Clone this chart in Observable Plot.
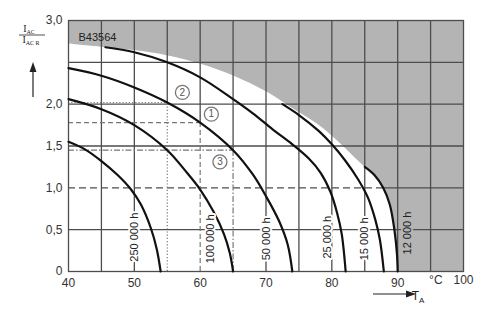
<!DOCTYPE html>
<html><head><meta charset="utf-8">
<script src="https://cdn.jsdelivr.net/npm/d3@7"></script>
<script src="https://cdn.jsdelivr.net/npm/@observablehq/plot@0.6"></script>
<style>
body{margin:0;background:#fff;}
#chart{width:498px;height:309px;}
</style></head><body><div id="chart"></div>
<script>
// Curves: [T_A in °C, I_AC / I_AC,R]
const curve250k = [[40,1.55],[42.5,1.46],[45,1.32],[47.5,1.15],[49.5,0.98],[51,0.8],[52.5,0.52],[53.4,0.27],[54,0]];
const curve100k = [[40,2.06],[45,1.94],[50,1.75],[55,1.45],[58,1.18],[60,0.98],[62,0.72],[63.6,0.45],[64.5,0.22],[65,0]];
const curve50k  = [[40,2.43],[45,2.34],[50,2.2],[55,2.02],[60,1.78],[65,1.45],[68,1.16],[70,0.9],[72,0.6],[73.3,0.32],[74,0]];
const curve25k  = [[45.6,2.68],[50,2.62],[55,2.5],[60,2.32],[65,2.06],[68,1.89],[71,1.7],[74,1.52],[76.5,1.35],[78.3,1.18],[79.8,0.95],[80.8,0.7],[81.5,0.45],[82.1,0]];
const curve15k  = [[72.5,2.0],[75,1.87],[78,1.68],[80,1.52],[82,1.33],[84,1.1],[85.5,0.88],[86.6,0.62],[87.3,0.38],[87.9,0]];
const curve12k  = [[85,1.25],[86.5,1.15],[87.8,1.0],[88.8,0.8],[89.5,0.5],[89.9,0.2],[90,0]];
const curveNames = ["250 000 h","100 000 h","50 000 h","25 000 h","15 000 h","12 000 h"];
const labelT = [50, 61.6, 70, 79.4, 85, 91.5];
const labelV = [0.41, 0.39, 0.39, 0.41, 0.39, 0.46];
// upper limit of the permitted region (shaded above it)
const limitEdge = [[40,2.72],[45,2.68],[50,2.64],[55,2.58],[60,2.48],[65,2.34],[70,2.15],[74,1.95],[78,1.75],[81,1.55],[83.5,1.36]];
// operating examples 1,2,3
const refIds = ["1","2","3"];
const refT = [60, 55, 65];
const refV = [1.78, 2.02, 1.45];
const refDash = ["5,3", "1.2,2", "6,2,1.5,2"];
const refLabelT = [61.7, 57.3, 63.0];
const refLabelV = [1.88, 2.14, 1.31];
// ticks & grid
const xTicks = [40,50,60,70,80,90];
const yTicks = [0,0.5,1,1.5,2,3];
const gridX = [45,50,70,75,80,85,90,95];
const gridY = [0.5,1.5,2,2.5];

const grayEdge = limitEdge.concat(curve12k);
const refs = refIds.map((id,i)=>({id, T:refT[i], v:refV[i], dash:refDash[i], lt:refLabelT[i], lv:refLabelV[i]}));
const curves = [curve250k,curve100k,curve50k,curve25k,curve15k,curve12k];
const labels = curveNames.map((n,i)=>({n, T:labelT[i], v:labelV[i], bg: i===5 ? "#b4b4b4" : "white"}));
const gridCol = "#4d4d4d";
const shade = "#b4b4b4";
const lastT = curve12k[curve12k.length-1][0];

const marks = [
  Plot.areaY(grayEdge, {x: d=>d[0], y1: d=>d[1], y2: 3, fill: shade, curve: "catmull-rom"}),
  Plot.rect([lastT], {x1: d=>d, x2: 100, y1: 0, y2: 3, fill: shade}),
  Plot.ruleX(gridX, {stroke: gridCol, strokeWidth: 1.3}),
  Plot.ruleY(gridY, {stroke: gridCol, strokeWidth: 1.3}),
  Plot.ruleX(refs, {x: "T", y1: "v", y2: 3, stroke: gridCol, strokeWidth: 1.3}),
  Plot.ruleY([1], {x1: 40, x2: 88, stroke: gridCol, strokeWidth: 1.3, strokeDasharray: "7,4"}),
  Plot.ruleY([1], {x1: 88, x2: 100, stroke: gridCol, strokeWidth: 1.3}),
];
refs.forEach(r => {
  marks.push(Plot.ruleY([r], {y: "v", x1: 40, x2: "T", stroke: "#777", strokeWidth: 1.2, strokeDasharray: r.dash}));
  marks.push(Plot.ruleX([r], {x: "T", y1: 0, y2: "v", stroke: "#777", strokeWidth: 1.2, strokeDasharray: r.dash}));
});
marks.push(Plot.frame({stroke: gridCol, strokeWidth: 1.3}));
curves.forEach(c => marks.push(Plot.line(c, {x: d=>d[0], y: d=>d[1], stroke: "#111", strokeWidth: 2.2, curve: "catmull-rom"})));
marks.push(Plot.text(labels, {x: "T", y: "v", text: "n", rotate: -90, fontSize: 11, fill: "#222", stroke: "bg", strokeWidth: 4, paintOrder: "stroke"}));
marks.push(Plot.dot(refs, {x: "lt", y: "lv", r: 7, stroke: "#777", strokeWidth: 1.3, fill: "white"}));
marks.push(Plot.text(refs, {x: "lt", y: "lv", text: "id", fontSize: 10, fill: "#555"}));
marks.push(Plot.text(["B43564"], {frameAnchor: "top-left", dx: 10, dy: 13, textAnchor: "start", fontSize: 11, fill: "#222"}));
marks.push(Plot.text(["°C"], {x: [95.8], frameAnchor: "bottom", dy: 12, fontSize: 12, fill: "#333"}));
marks.push(Plot.text(["100"], {x: [100], frameAnchor: "bottom", dy: 12, fontSize: 12, fill: "#333"}));

const chart = Plot.plot({
  width: 498, height: 309,
  marginLeft: 68, marginRight: 35, marginTop: 20, marginBottom: 38,
  style: {fontFamily: "Liberation Sans, Arial, sans-serif", fontSize: "12px", color: "#333", background: "white"},
  x: {domain: [40,100], ticks: xTicks, tickSize: 0, tickPadding: 7, label: null, tickFormat: d => String(d)},
  y: {domain: [0,3], ticks: yTicks, tickSize: 0, tickPadding: 6, label: null,
      tickFormat: d => d === 0 ? "0" : d.toFixed(1).replace(".", ",")},
  marks
});
document.getElementById("chart").appendChild(chart);

// axis titles with subscripts and arrows
const svg = d3.select(chart);
const t = svg.append("g").attr("font-family", "Liberation Serif, serif").attr("fill", "#222");
const num = t.append("text").attr("x", 29).attr("y", 32).attr("text-anchor", "middle").attr("font-size", 10);
num.append("tspan").text("I");
num.append("tspan").attr("font-size", 6).attr("dy", 2).text("AC");
t.append("line").attr("x1", 19).attr("x2", 45).attr("y1", 35).attr("y2", 35).attr("stroke", "#222").attr("stroke-width", 0.8);
const den = t.append("text").attr("x", 31).attr("y", 43).attr("text-anchor", "middle").attr("font-size", 10);
den.append("tspan").text("I");
den.append("tspan").attr("font-size", 6).attr("dy", 2).text("AC R");
t.append("line").attr("x1", 33).attr("x2", 33).attr("y1", 97).attr("y2", 70).attr("stroke", "#222").attr("stroke-width", 1.2);
t.append("path").attr("d", "M33,62 L29.5,72 L36.5,72 Z").attr("fill", "#222");
t.append("line").attr("x1", 373).attr("x2", 407).attr("y1", 294).attr("y2", 294).attr("stroke", "#222").attr("stroke-width", 1.2);
t.append("path").attr("d", "M416,294 L406,290.5 L406,297.5 Z").attr("fill", "#222");
const ta = t.append("text").attr("x", 418).attr("y", 300).attr("font-family", "Liberation Sans, sans-serif").attr("font-size", 12);
ta.append("tspan").text("T");
ta.append("tspan").attr("font-size", 8).attr("dy", 3).text("A");
</script></body></html>
